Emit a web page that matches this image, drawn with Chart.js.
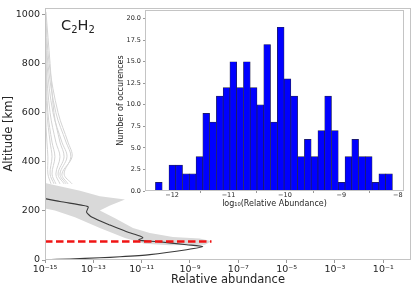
<!DOCTYPE html>
<html>
<head>
<meta charset="utf-8">
<script src="https://cdn.jsdelivr.net/npm/chart.js@4.4.0/dist/chart.umd.min.js"></script>
<style>
  html, body { margin: 0; padding: 0; background: #fff; }
  #wrap { position: relative; width: 415px; height: 291px; }
  #main { position: absolute; left: 0; top: 0; }
  #inset { position: absolute; left: 113px; top: 4px; }
  #species { position: absolute; left: 61px; top: 18px; font: 14.5px "DejaVu Sans", sans-serif; color: #222; line-height: 1; }
  #species sub { font-size: 10px; vertical-align: -3px; line-height: 0; }
</style>
</head>
<body>
<div id="wrap">
  <canvas id="main" width="415" height="291"></canvas>
  <div id="species">C<sub>2</sub>H<sub>2</sub></div>
  <canvas id="inset" width="295" height="210"></canvas>
</div>
<script>
// ---- main plot data (x values are log10 of relative abundance) ----
const xTickValues = [1e-15, 1e-13, 1e-11, 1e-9, 1e-7, 1e-5, 1e-3, 1e-1];
const yTickValues = [0, 200, 400, 600, 800, 1000];

// median profile
const medianAlt = [262, 250, 238, 222, 216, 195, 175, 142, 115, 98, 90, 82, 78, 75, 62, 55, 42, 22, 13, 9, 4, 1, 0];
const medianLog = [-15.6, -15.0, -14.38, -13.42, -13.21, -13.28, -13.07, -12.31, -11.62, -11.07, -10.95, -11.12, -10.87, -10.38, -9.14, -8.47, -9.14, -10.66, -11.9, -12.73, -13.97, -15.04, -15.5];

// outline of the dense grey bundle of profiles
const bandAlt = [318, 282, 260, 246, 222, 202, 170, 130, 110, 94, 88, 76, 62, 60, 66, 90, 130, 174, 202, 214];
const bandLog = [-15.2, -13.55, -12.73, -11.69, -12.31, -12.73, -12.1, -11.36, -10.66, -9.71, -8.6, -8.1, -8.39, -9.83, -10.87, -11.69, -12.73, -13.76, -14.59, -15.2];

// single grey profiles above the bundle
const fanAlt = [1010, 800, 600, 480, 420, 350, 310];
const fanLogs = [
  [-15.02, -14.96, -14.79, -14.55, -14.38, -14.55, -14.38],
  [-15.00, -14.92, -14.67, -14.30, -14.09, -14.38, -14.13],
  [-15.00, -14.88, -14.55, -14.13, -13.93, -14.21, -13.88],
  [-15.01, -14.96, -14.88, -14.71, -14.59, -14.71, -14.55],
  [-14.98, -14.83, -14.46, -14.05, -13.88, -14.30, -14.05],
  [-15.02, -14.98, -14.92, -14.79, -14.71, -14.79, -14.63],
  [-14.96, -14.79, -14.63, -14.38, -14.21, -14.46, -14.21],
  [-15.03, -15.00, -14.98, -14.92, -14.88, -14.88, -14.75]
];

// red dashed level
const redAlt = [75, 75];
const redLog = [-15, -8.11];

// ---- inset histogram data ----
const binCenters = [-12.235, -12.115, -11.995, -11.875, -11.755, -11.635, -11.515, -11.395, -11.275, -11.155,
  -11.035, -10.915, -10.795, -10.675, -10.555, -10.435, -10.315, -10.195, -10.075, -9.955,
  -9.835, -9.715, -9.595, -9.475, -9.355, -9.235, -9.115, -8.995, -8.875, -8.755,
  -8.635, -8.515, -8.395, -8.275, -8.155];
const binCounts = [1, 0, 3, 3, 2, 2, 4, 9, 8, 11, 12, 15, 12, 15, 12, 10, 17, 8, 19, 13,
  11, 4, 6, 4, 7, 11, 7, 1, 4, 6, 4, 4, 1, 2, 2];
const insetXTicks = [-12, -11, -10, -9, -8];
const insetYTicks = [0, 2.5, 5, 7.5, 10, 12.5, 15, 17.5, 20];

const FONT = '"DejaVu Sans", sans-serif';
const TEXT = '#262626';
const SPINE = '#c4c4c4';

const supMap = {'-': '\u207B', '0': '\u2070', '1': '\u00B9', '2': '\u00B2', '3': '\u00B3', '4': '\u2074',
  '5': '\u2075', '6': '\u2076', '7': '\u2077', '8': '\u2078', '9': '\u2079'};
function powLabel(v) {
  const e = String(Math.round(Math.log10(v)));
  return '10' + e.split('').map(c => supMap[c]).join('');
}
const toXY = (logs, alts) => logs.map((l, i) => ({x: Math.pow(10, l), y: alts[i]}));

// frame round the plot area, like matplotlib spines
const framePlugin = {
  id: 'frame',
  beforeDraw(chart, args, opts) {
    if (!opts.fill) return;
    const a = chart.chartArea;
    chart.ctx.save();
    chart.ctx.fillStyle = opts.fill;
    chart.ctx.fillRect(a.left, a.top, a.width, a.height);
    chart.ctx.restore();
  },
  afterDraw(chart) {
    const {ctx, chartArea: a} = chart;
    ctx.save();
    ctx.strokeStyle = SPINE;
    ctx.lineWidth = 1;
    ctx.strokeRect(Math.round(a.left) + 0.5, Math.round(a.top) + 0.5, Math.round(a.width) - 1, Math.round(a.height) - 1);
    ctx.restore();
  }
};

// dense bundle of profiles drawn as one filled outline through the scales
const bandPlugin = {
  id: 'band',
  beforeDatasetsDraw(chart) {
    const {ctx, chartArea: a, scales: {x, y}} = chart;
    ctx.save();
    ctx.beginPath();
    ctx.rect(a.left, a.top, a.width, a.height);
    ctx.clip();
    ctx.beginPath();
    bandLog.forEach((l, i) => {
      const px = x.getPixelForValue(Math.pow(10, l));
      const py = y.getPixelForValue(bandAlt[i]);
      if (i === 0) ctx.moveTo(px, py); else ctx.lineTo(px, py);
    });
    ctx.closePath();
    ctx.fillStyle = '#d9d9d9';
    ctx.fill();
    ctx.restore();
  }
};

const datasets = [
  {data: toXY(redLog, redAlt), borderColor: '#f01414', borderWidth: 2.4, borderDash: [7.5, 3.5]},
  {data: toXY(medianLog, medianAlt), borderColor: '#3a3a3a', borderWidth: 1.1, tension: 0.2}
];
fanLogs.forEach(f => datasets.push({data: toXY(f, fanAlt), borderColor: '#d4d4d4', borderWidth: 1, tension: 0.35}));
datasets.forEach(d => { d.showLine = true; d.pointRadius = 0; d.fill = false; });

new Chart(document.getElementById('main'), {
  type: 'scatter',
  data: {datasets},
  plugins: [framePlugin, bandPlugin],
  options: {
    responsive: false,
    animation: false,
    layout: {padding: {top: 4, right: 4, left: 0, bottom: 0}},
    plugins: {legend: {display: false}, tooltip: {enabled: false}},
    scales: {
      x: {
        type: 'logarithmic',
        min: 1e-15,
        max: 1.4,
        afterBuildTicks: s => { s.ticks = xTickValues.map(v => ({value: v})); },
        afterFit: s => { s.height = 31; },
        border: {display: false},
        grid: {drawOnChartArea: false, tickLength: 3, tickColor: '#999'},
        ticks: {callback: v => powLabel(v), autoSkip: false, maxRotation: 0, padding: 1, color: TEXT, font: {family: FONT, size: 9.5}},
        title: {display: true, text: 'Relative abundance', color: TEXT, font: {family: FONT, size: 11.5}, padding: {top: 0, bottom: 4}}
      },
      y: {
        type: 'linear',
        min: 0,
        max: 1027,
        afterBuildTicks: s => { s.ticks = yTickValues.map(v => ({value: v})); },
        afterFit: s => { s.width = 45; },
        border: {display: false},
        grid: {drawOnChartArea: false, tickLength: 3, tickColor: '#999'},
        ticks: {callback: v => String(v), padding: 2, color: TEXT, font: {family: FONT, size: 9.5}},
        title: {display: true, text: 'Altitude [km]', color: TEXT, font: {family: FONT, size: 11.5}, padding: {top: 2, bottom: 0}}
      }
    }
  }
});

new Chart(document.getElementById('inset'), {
  type: 'bar',
  data: {
    datasets: [{
      data: binCenters.map((c, i) => ({x: c, y: binCounts[i]})),
      backgroundColor: '#0000ff',
      borderColor: '#22224a',
      borderWidth: 0.7,
      barPercentage: 1,
      categoryPercentage: 1
    }]
  },
  plugins: [framePlugin],
  options: {
    responsive: false,
    animation: false,
    layout: {padding: {top: 6, right: 4, left: 0, bottom: 0}},
    plugins: {legend: {display: false}, tooltip: {enabled: false}, frame: {fill: '#ffffff'}},
    scales: {
      x: {
        type: 'linear',
        offset: false,
        min: -12.48,
        max: -7.89,
        afterBuildTicks: s => { s.ticks = insetXTicks.map(v => ({value: v})); },
        afterFit: s => { s.height = 23; },
        border: {display: false},
        grid: {drawOnChartArea: false, tickLength: 2, tickColor: '#999'},
        ticks: {callback: v => (v < 0 ? '\u2212' : '') + Math.abs(v), maxRotation: 0, padding: -2, color: TEXT, font: {family: FONT, size: 6.5}},
        title: {display: true, text: 'log\u2081\u2080(Relative Abundance)', color: TEXT, font: {family: FONT, size: 8}, padding: {top: 0, bottom: 5}}
      },
      y: {
        min: 0,
        max: 21,
        afterBuildTicks: s => { s.ticks = insetYTicks.map(v => ({value: v})); },
        afterFit: s => { s.width = 32; },
        border: {display: false},
        grid: {drawOnChartArea: false, tickLength: 2, tickColor: '#999'},
        ticks: {callback: v => v.toFixed(1), padding: 2, color: TEXT, font: {family: FONT, size: 6.5}},
        title: {display: true, text: 'Number of occurences', color: TEXT, font: {family: FONT, size: 8}, padding: {top: 3, bottom: 0}}
      }
    }
  }
});
</script>
</body>
</html>
